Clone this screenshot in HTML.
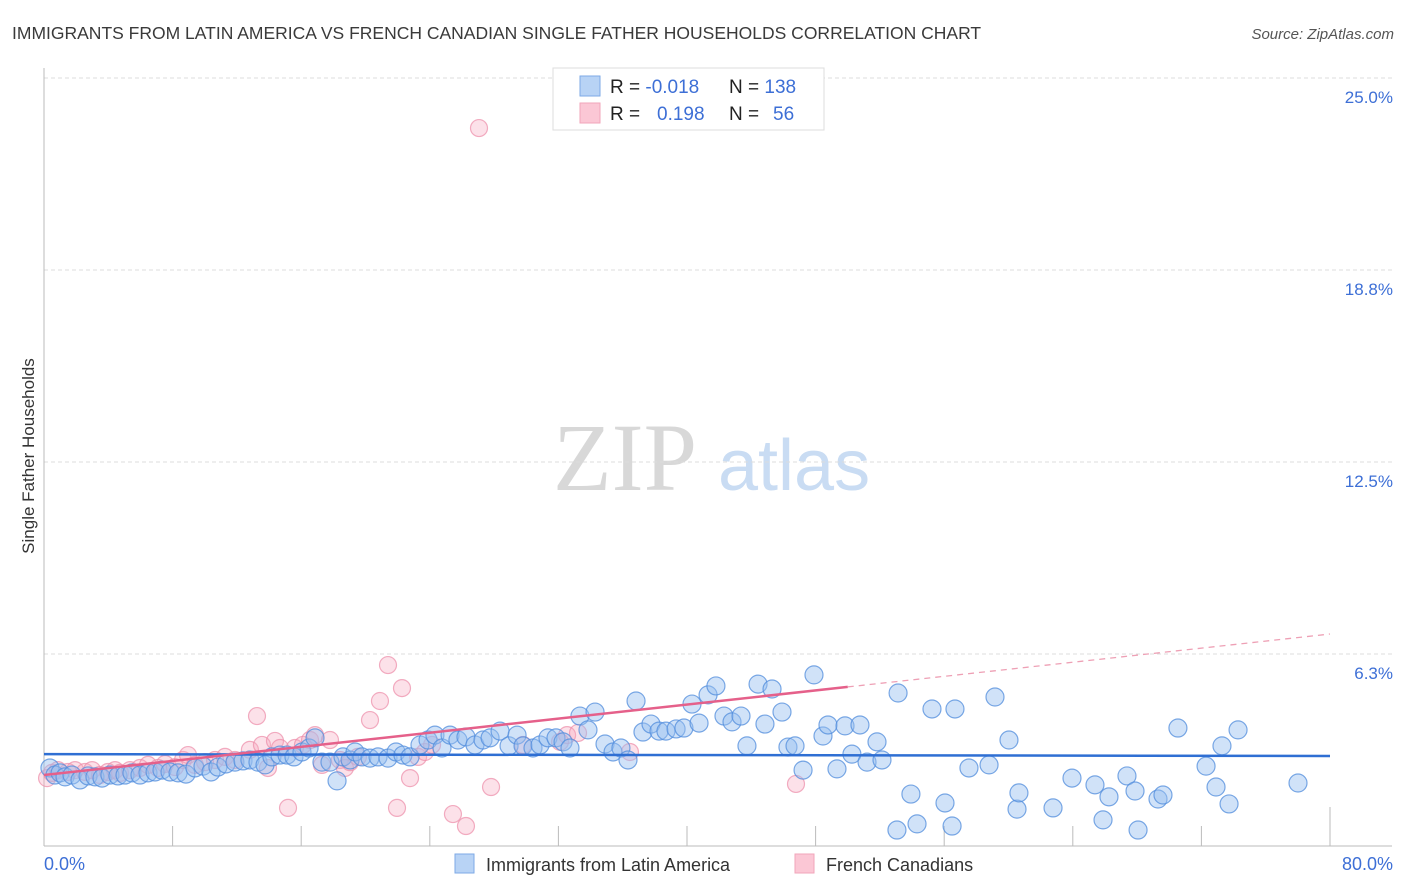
<!DOCTYPE html>
<html><head><meta charset="utf-8">
<style>
html,body{margin:0;padding:0;background:#fff;}
body{width:1406px;height:892px;overflow:hidden;font-family:"Liberation Sans",sans-serif;}
svg{display:block}
</style></head>
<body>
<svg id="chart" width="1406" height="892" xmlns="http://www.w3.org/2000/svg">
<text x="12" y="39" font-size="17.5" fill="#3a3a3a">IMMIGRANTS FROM LATIN AMERICA VS FRENCH CANADIAN SINGLE FATHER HOUSEHOLDS CORRELATION CHART</text>
<text x="1394" y="39" font-size="15" font-style="italic" fill="#555" text-anchor="end">Source: ZipAtlas.com</text>
<g>
<text x="553" y="490" font-family="Liberation Serif,serif" font-size="96" fill="#d8d8d8">ZIP</text>
<text x="718" y="490" font-size="72" fill="#c9dcf3">atlas</text>
</g>
<text transform="translate(34,456) rotate(-90)" font-size="17" fill="#333" text-anchor="middle">Single Father Households</text>
<g id="grid"></g>
<g id="marks"></g>
<g>
<rect x="553" y="68" width="271" height="62" fill="#fff" stroke="#ddd"/>
<rect x="580" y="76" width="20" height="20" fill="#b8d3f5" stroke="#7eaae6"/>
<rect x="580" y="103" width="20" height="20" fill="#fbc7d5" stroke="#f1a5ba"/>
<text x="610" y="93" font-size="19" fill="#222">R = <tspan fill="#3d6fd6">-0.018</tspan></text>
<text x="729" y="93" font-size="19" fill="#222">N = <tspan fill="#3d6fd6">138</tspan></text>
<text x="610" y="120" font-size="19" fill="#222">R = <tspan fill="#3d6fd6" x="657">0.198</tspan></text>
<text x="729" y="120" font-size="19" fill="#222">N = <tspan fill="#3d6fd6" x="773">56</tspan></text>
</g>
<g>
<rect x="455" y="854" width="19" height="19" fill="#b8d3f5" stroke="#7eaae6"/>
<text x="486" y="871" font-size="18" fill="#333">Immigrants from Latin America</text>
<rect x="795" y="854" width="19" height="19" fill="#fbc7d5" stroke="#f1a5ba"/>
<text x="826" y="871" font-size="18" fill="#333">French Canadians</text>
</g>
</svg>
<script>
const yTicks=[25,18.75,12.5,6.25];
const yTickLabels=["25.0%","18.8%","12.5%","6.3%"];
const xLabels=["0.0%","80.0%"];
const blueX=[0.37,0.68,1.0,1.31,1.74,2.24,2.74,3.17,3.61,4.1,4.6,5.04,5.47,5.97,6.47,6.91,7.34,7.84,8.34,8.83,9.39,9.89,10.39,10.82,11.32,11.88,12.38,12.81,13.31,13.75,14.18,14.68,15.12,15.55,16.05,16.49,16.86,17.29,17.79,18.23,18.6,19.04,19.35,19.78,20.28,20.78,21.4,21.9,22.33,22.77,23.39,23.89,24.32,24.76,25.26,25.75,26.25,26.81,27.31,27.75,28.37,28.93,29.43,29.8,30.42,30.86,31.35,31.85,32.29,32.72,33.34,33.84,34.28,34.9,35.4,35.89,36.33,36.83,37.26,37.76,38.26,38.69,39.32,39.81,40.31,40.75,41.31,41.8,42.3,42.8,43.36,43.73,44.42,44.85,45.29,45.91,46.28,46.72,47.22,47.9,48.46,48.77,49.33,49.83,50.26,50.76,51.2,51.82,52.13,53.06,53.13,53.93,54.31,55.24,56.05,56.49,56.67,57.54,58.79,59.16,60.03,60.53,60.65,62.77,63.95,65.38,65.88,66.25,67.37,67.87,68.06,69.3,69.61,70.54,72.29,72.91,73.28,73.72,74.28,78.01];
const blueY=[2.54,2.31,2.38,2.25,2.31,2.15,2.28,2.25,2.21,2.31,2.28,2.31,2.38,2.31,2.38,2.41,2.47,2.41,2.38,2.34,2.54,2.6,2.41,2.57,2.67,2.73,2.77,2.8,2.73,2.64,2.9,2.96,2.96,2.9,3.06,3.19,3.52,2.73,2.73,2.12,2.9,2.8,3.06,2.9,2.86,2.9,2.86,3.06,2.96,2.9,3.29,3.45,3.61,3.19,3.61,3.45,3.55,3.29,3.45,3.52,3.74,3.26,3.61,3.26,3.19,3.29,3.52,3.52,3.39,3.19,4.23,3.78,4.36,3.32,3.06,3.19,2.8,4.72,3.71,3.97,3.74,3.74,3.81,3.84,4.62,4.0,4.92,5.21,4.23,4.04,4.23,3.26,5.27,3.97,5.11,4.36,3.22,3.26,2.47,5.57,3.58,3.94,2.51,3.91,2.99,3.94,2.73,3.39,2.8,0.52,4.98,1.69,0.72,4.46,1.4,0.65,4.46,2.54,2.64,4.85,3.45,1.2,1.73,1.24,2.21,1.99,0.85,1.6,2.28,1.79,0.52,1.53,1.66,3.84,2.6,1.92,3.26,1.37,3.78,2.05];
const pinkX=[0.19,0.5,0.87,1.49,1.93,2.55,2.99,3.48,3.98,4.42,4.73,5.35,5.97,6.47,7.09,7.53,8.15,8.65,8.96,9.39,10.02,10.64,11.26,11.88,12.81,13.25,13.56,13.93,14.37,14.68,15.18,15.61,16.11,16.55,16.86,17.29,17.79,18.41,18.72,19.04,19.53,20.28,20.9,21.4,22.27,21.96,22.77,23.27,23.7,24.14,25.44,26.25,27.06,27.81,29.8,32.1,32.54,33.22,36.45,46.78];
const pinkY=[2.21,2.38,2.47,2.41,2.47,2.41,2.47,2.31,2.41,2.47,2.38,2.47,2.54,2.64,2.54,2.67,2.57,2.8,2.96,2.64,2.73,2.8,2.9,2.8,3.13,4.23,3.29,2.54,3.42,3.19,1.24,3.19,3.29,3.45,3.61,2.64,3.45,2.8,2.54,2.73,2.9,4.1,4.72,5.89,5.14,1.24,2.21,2.9,3.06,3.29,1.04,0.65,23.37,1.92,3.29,3.39,3.61,3.68,3.06,2.02];
const blueTrend=[2.99,2.93];   // value at x=0 and x=80
const pinkTrend=[2.31,6.9];     // value at x=0 and x=80
const pinkSolidEnd=50;

const X0=44,X1=1330,YB=846,PX=30.72;
const sx=v=>X0+(X1-X0)*v/80;
const sy=v=>YB-v*PX;
const NS="http://www.w3.org/2000/svg";
function mk(tag,attrs,parent){const e=document.createElementNS(NS,tag);for(const k in attrs)e.setAttribute(k,attrs[k]);parent.appendChild(e);return e;}
const grid=document.getElementById('grid'),marks=document.getElementById('marks');
yTicks.forEach((t,i)=>{
  const l=mk('line',{x1:X0,x2:1393,y1:sy(t),y2:sy(t),stroke:'#dcdcdc','stroke-dasharray':'4,3'},grid);
  
  
  const tx=mk('text',{x:1393,y:sy(t)+25,'font-size':17,fill:'#3d6fd6','text-anchor':'end'},grid);
  tx.textContent=yTickLabels[i];
  
  
});
const ax=mk('line',{x1:X0,x2:X0,y1:68,y2:YB,stroke:'#bbb'},grid);


const bx=mk('line',{x1:X0,x2:1392,y1:YB,y2:YB,stroke:'#bbb'},grid);


for(let v=8;v<=80;v+=8){
  const t=mk('line',{x1:sx(v),x2:sx(v),y1:v===80?807:826,y2:YB,stroke:'#bbb'},grid);
  
  
}
const xl0=mk('text',{x:44,y:870,'font-size':18,fill:'#3d6fd6'},grid);xl0.textContent=xLabels[0];


const xl1=mk('text',{x:1393,y:870,'font-size':18,fill:'#3d6fd6','text-anchor':'end'},grid);xl1.textContent=xLabels[1];



pinkX.forEach((x,i)=>{
  const c=mk('circle',{cx:sx(x),cy:sy(pinkY[i]),r:8.5,fill:'rgba(245,168,192,0.35)',stroke:'rgba(236,140,168,0.7)','stroke-width':1.2},marks);
  
  
});
blueX.forEach((x,i)=>{
  const c=mk('circle',{cx:sx(x),cy:sy(blueY[i]),r:9,fill:'rgba(150,190,240,0.45)',stroke:'rgba(80,140,220,0.75)','stroke-width':1.2},marks);
  
  
});
const pv=x=>pinkTrend[0]+(pinkTrend[1]-pinkTrend[0])*x/80;
const bl=mk('line',{x1:sx(0),y1:sy(blueTrend[0]),x2:sx(80),y2:sy(blueTrend[1]),stroke:'#2f6fd3','stroke-width':2.5},marks);


const pl=mk('line',{x1:sx(0),y1:sy(pv(0)),x2:sx(pinkSolidEnd),y2:sy(pv(pinkSolidEnd)),stroke:'#e5608a','stroke-width':2.5},marks);


const pd=mk('line',{x1:sx(pinkSolidEnd),y1:sy(pv(pinkSolidEnd)),x2:sx(80),y2:sy(pv(80)),stroke:'#eea0b5','stroke-width':1.3,'stroke-dasharray':'6,5'},marks);


</script>
</body></html>
